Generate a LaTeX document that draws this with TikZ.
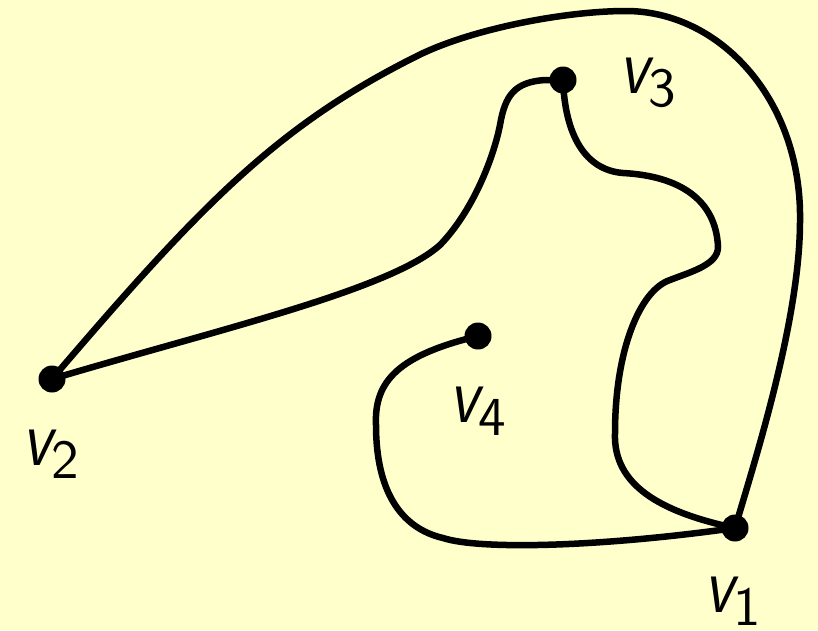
\documentclass[tikz,border=0pt]{standalone}
\usepackage{fontspec}
\usepackage{graphicx}
\newfontfamily\labfont{lmsans10}[Extension=.otf, UprightFont=*-regular, SlantedFont=*-oblique, ItalicFont=*-oblique]
\definecolor{bg}{HTML}{FFFFCC}
\tikzset{
  vdot/.style={circle,fill=black,minimum size=27pt,inner sep=0pt},
  edge/.style={line width=6.5pt,line cap=round,line join=round},
  lbl/.style={anchor=base west,inner sep=0pt,font=\labfont}
}
\newcommand{\vlab}[1]{\scalebox{0.8}[1]{\fontsize{80}{84}\selectfont\slshape v}\raisebox{-13pt}{\fontsize{55}{58}\selectfont #1}}
\begin{document}
\begin{tikzpicture}[x=1pt,y=-1pt]
\fill[bg] (0,0) rectangle (818,630);
\useasboundingbox (0,0) rectangle (818,630);
\node[vdot] (v1) at (735,528) {};
\node[vdot] (v2) at (52,379) {};
\node[vdot] (v3) at (563,80) {};
\node[vdot] (v4) at (478,336) {};
% outer curve v2 -> v1
\draw[edge] (v2.center) .. controls (202,203.5) and (277,126) .. (417,56)
  .. controls (472,28.5) and (566,11) .. (626,11)
  .. controls (720,11) and (802,100) .. (800,221)
  .. controls (800,320) and (755,460) .. (v1.center);
% v2 -> v3
\draw[edge] (v2.center) .. controls (216,330) and (390,290) .. (440,245)
  .. controls (472,212) and (493,160) .. (500,125)
  .. controls (505,95) and (515,82) .. (545,80) -- (v3.center);
% v3 -> v1
\draw[edge] (v3.center) .. controls (565,135) and (585,170) .. (623,173)
  .. controls (680,176) and (716,200) .. (718,247)
  .. controls (718,265) and (690,272) .. (670,280)
  .. controls (640,290) and (615,350) .. (615,433)
  .. controls (613,485) and (660,512) .. (v1.center);
% v4 -> v1
\draw[edge] (v4.center) .. controls (400,355) and (374,380) .. (376,425)
  .. controls (376,490) and (400,528) .. (443,538)
  .. controls (480,550) and (600,547) .. (v1.center);
\node[lbl] (l3) at (619,93) {\vlab{3}};
\node[lbl] (l2) at (22,465) {\vlab{2}};
\node[lbl] (l4) at (449,422) {\vlab{4}};
\node[lbl] (l1) at (704,612) {\vlab{1}};
\end{tikzpicture}
\end{document}
